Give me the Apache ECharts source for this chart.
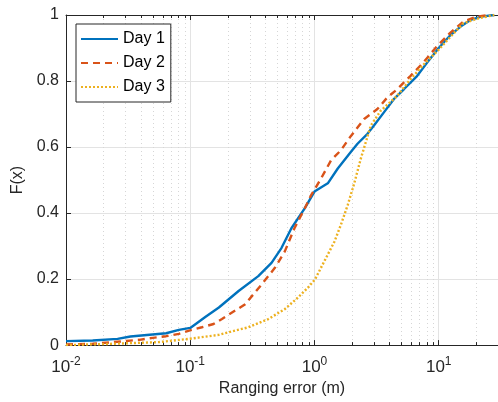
<!DOCTYPE html>
<html>
<head>
<meta charset="utf-8">
<script src="https://cdn.jsdelivr.net/npm/echarts@6/dist/echarts.min.js"></script>
<style>html,body{margin:0;padding:0;background:#fff}#c{width:498px;height:402px}</style>
</head>
<body>
<div id="c"></div>
<script>
const seriesNames = ['Day 1', 'Day 2', 'Day 3'];
const day1X = [0.01, 0.0164, 0.026, 0.033, 0.064, 0.081, 0.1, 0.133, 0.17, 0.245, 0.353, 0.451, 0.542, 0.652, 0.834, 1.0, 1.28, 1.54, 1.96, 2.22, 2.67, 3.01, 3.62, 4.35, 5.24, 6.69, 8.04, 10, 12.5, 15, 18, 22, 28];
const day1Y = [0.012, 0.014, 0.019, 0.026, 0.036, 0.046, 0.052, 0.086, 0.114, 0.164, 0.209, 0.249, 0.294, 0.354, 0.414, 0.465, 0.49, 0.535, 0.585, 0.61, 0.64, 0.665, 0.705, 0.745, 0.775, 0.815, 0.855, 0.9, 0.94, 0.965, 0.985, 0.995, 1.0];
const day2X = [0.01, 0.0164, 0.0239, 0.039, 0.05, 0.064, 0.081, 0.098, 0.124, 0.154, 0.18, 0.277, 0.376, 0.48, 0.577, 0.69, 0.834, 0.94, 1.13, 1.36, 1.63, 1.96, 2.51, 3.21, 3.85, 4.63, 5.91, 7.56, 9.66, 12.3, 15.8, 20.1, 26];
const day2Y = [0.002, 0.004, 0.009, 0.016, 0.022, 0.027, 0.034, 0.044, 0.054, 0.064, 0.079, 0.124, 0.184, 0.234, 0.284, 0.354, 0.414, 0.454, 0.505, 0.56, 0.59, 0.633, 0.685, 0.715, 0.75, 0.775, 0.815, 0.857, 0.905, 0.945, 0.98, 0.995, 1.0];
const day3X = [0.01, 0.02, 0.056, 0.098, 0.17, 0.204, 0.294, 0.425, 0.577, 0.736, 0.885, 1.01, 1.2, 1.45, 1.63, 1.85, 2.09, 2.36, 2.59, 2.84, 3.41, 4.63, 5.91, 7.56, 10, 12.5, 15.8, 21, 28];
const day3Y = [0.0, 0.003, 0.009, 0.019, 0.031, 0.039, 0.054, 0.079, 0.109, 0.144, 0.174, 0.199, 0.254, 0.314, 0.364, 0.424, 0.49, 0.565, 0.615, 0.665, 0.71, 0.755, 0.805, 0.85, 0.895, 0.935, 0.975, 0.99, 1.0];
const minorTicks = [0.02,0.03,0.04,0.05,0.06,0.07,0.08,0.09,0.2,0.3,0.4,0.5,0.6,0.7,0.8,0.9,2,3,4,5,6,7,8,9,20];
const majorTickExps = {'0.01': '-2', '0.1': '-1', '1': '0', '10': '1'};

const FONT = 'Liberation Sans';
const AX = '#262626';
const colors = ['#0072BD', '#D95319', '#EDB120'];
const dashes = ['solid', [7, 5], [2, 2]];

function pairs(xs, ys) { return xs.map((x, i) => [x, ys[i]]); }
const allX = [day1X, day2X, day3X];
const allY = [day1Y, day2Y, day3Y];

const chart = echarts.init(document.getElementById('c'), null, {renderer: 'canvas'});

function xLabel(v) {
  const key = String(+v.toPrecision(6));
  if (!(key in majorTickExps)) return '';
  return '{b|10}{s|' + majorTickExps[key] + '}';
}

const lineSeries = seriesNames.map((n, i) => ({
  name: n, type: 'line', data: pairs(allX[i], allY[i]),
  showSymbol: false, symbol: 'none', z: 3,
  lineStyle: {color: colors[i], width: 2.4, type: dashes[i]},
  itemStyle: {color: colors[i]}
}));

const minorSeries = {
  type: 'custom', silent: true, z: 1, xAxisIndex: 0, yAxisIndex: 0,
  data: minorTicks.map(v => [v, 0]),
  encode: {x: 0, y: 1},
  renderItem: function (params, api) {
    const v = api.value(0);
    const t = api.coord([v, 1]);
    const b = api.coord([v, 0]);
    const x = Math.round(t[0]) + 0.5;
    return {type: 'group', children: [
      {type: 'line', shape: {x1: x, y1: t[1], x2: x, y2: b[1]}, style: {stroke: '#d6d6d6', lineWidth: 1, lineDash: [1, 3]}},
      {type: 'line', shape: {x1: x, y1: b[1], x2: x, y2: b[1] - 3}, style: {stroke: AX, lineWidth: 1}},
      {type: 'line', shape: {x1: x, y1: t[1], x2: x, y2: t[1] + 3}, style: {stroke: AX, lineWidth: 1}}
    ]};
  }
};

chart.setOption({
  animation: false,
  backgroundColor: '#fff',
  textStyle: {fontFamily: FONT},
  grid: {left: 66, top: 15, width: 436, height: 333, containLabel: false},
  legend: {
    data: seriesNames, orient: 'vertical', left: 76, top: 24,
    backgroundColor: '#fff', borderColor: AX, borderWidth: 1, borderRadius: 0,
    padding: [7, 6, 7, 4], itemWidth: 37, itemHeight: 14, itemGap: 8,
    itemStyle: {opacity: 0, borderWidth: 0},
    textStyle: {fontFamily: FONT, fontSize: 16, color: '#000'}
  },
  xAxis: [{
    type: 'log', logBase: 10, min: 0.01, max: 30, position: 'bottom',
    name: 'Ranging error (m)', nameLocation: 'middle', nameGap: 33,
    nameTextStyle: {fontFamily: FONT, fontSize: 16, color: AX},
    axisLine: {show: true, lineStyle: {color: AX, width: 1}},
    axisTick: {show: true, inside: true, length: 5, lineStyle: {color: AX}},
    splitLine: {show: true, lineStyle: {color: '#e3e3e3', width: 1}},
    minorTick: {show: false}, minorSplitLine: {show: false},
    axisLabel: {
      margin: 11, showMaxLabel: false, formatter: xLabel,
      rich: {
        b: {fontFamily: FONT, fontSize: 17, color: AX, verticalAlign: 'bottom', lineHeight: 20},
        s: {fontFamily: FONT, fontSize: 12, color: AX, verticalAlign: 'top', lineHeight: 20, padding: [0, 0, 8, 0]}
      }
    }
  }, {
    type: 'log', logBase: 10, min: 0.01, max: 30, position: 'top',
    axisLine: {show: true, lineStyle: {color: AX, width: 1}},
    axisTick: {show: true, inside: true, length: 5, lineStyle: {color: AX}},
    axisLabel: {show: false}, splitLine: {show: false}
  }],
  yAxis: [{
    type: 'value', min: 0, max: 1, interval: 0.2,
    name: 'F(x)', nameLocation: 'middle', nameGap: 38,
    nameTextStyle: {fontFamily: FONT, fontSize: 16, color: AX},
    axisLine: {show: true, lineStyle: {color: AX, width: 1}},
    axisTick: {show: true, inside: true, length: 5, lineStyle: {color: AX}},
    splitLine: {show: true, lineStyle: {color: '#e3e3e3', width: 1}},
    axisLabel: {margin: 7, fontFamily: FONT, fontSize: 16, color: AX}
  }],
  series: [minorSeries].concat(lineSeries)
});
</script>
</body>
</html>
